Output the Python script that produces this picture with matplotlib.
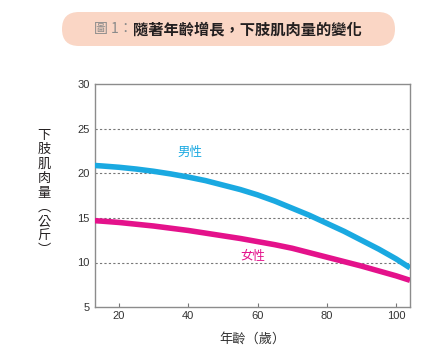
import matplotlib
matplotlib.use("Agg")
import matplotlib.pyplot as plt
from matplotlib.patches import FancyBboxPatch

# values
ages = [13, 15, 20, 25, 30, 35, 40, 45, 50, 55, 60, 65, 70, 75, 80, 85, 90, 95, 100, 104]
male = [20.9, 20.85, 20.7, 20.5, 20.25, 19.95, 19.6, 19.2, 18.7, 18.2,
        17.6, 16.9, 16.1, 15.3, 14.4, 13.5, 12.5, 11.5, 10.4, 9.4]
female = [14.7, 14.65, 14.5, 14.3, 14.1, 13.85, 13.6, 13.3, 13.0, 12.7,
          12.35, 12.0, 11.6, 11.1, 10.6, 10.1, 9.6, 9.05, 8.5, 8.0]
x_ticks = [20, 40, 60, 80, 100]
y_ticks = [5, 10, 15, 20, 25, 30]
grid_levels = [10, 15, 20, 25]

CJK = ['Noto Sans CJK TC', 'DejaVu Sans']
NUM = ['Liberation Sans', 'DejaVu Sans']
BLUE = '#1aa9e1'
PINK = '#e4128b'

fig = plt.figure(figsize=(4.29, 3.55), dpi=100)

# title banner drawn on a pixel-unit overlay
bg = fig.add_axes([0, 0, 1, 1])
bg.set_xlim(0, 429)
bg.set_ylim(355, 0)
bg.axis('off')
banner = FancyBboxPatch((45 + 17, 12), 367 - 34, 34,
                        boxstyle="round,pad=0,rounding_size=17",
                        facecolor='#fad6c5', edgecolor='none')
bg.add_patch(banner)
bg.text(133, 29.5, "圖 1：", ha='right', va='center', fontsize=10,
        color='#8a8a8a', family=CJK)
bg.text(133, 29.5, "隨著年齡增長，下肢肌肉量的變化", ha='left', va='center',
        fontsize=11, fontweight='heavy', color='#231f20', family=CJK)

ax = fig.add_axes([95 / 429, 1 - 307 / 355, 315 / 429, 222.5 / 355])
ax.set_xlim(13.1, 104)
ax.set_ylim(5, 30)

for lv in grid_levels:
    ax.axhline(lv, color='#777777', linewidth=0.8, linestyle=(0, (2, 2)), zorder=1)

ax.plot(ages, male, color=BLUE, linewidth=4, solid_capstyle='butt',
        solid_joinstyle='round', zorder=3)
ax.plot(ages, female, color=PINK, linewidth=4, solid_capstyle='butt',
        solid_joinstyle='round', zorder=3)

ax.text(40.4, 22.4, "男性", color=BLUE, fontsize=9, ha='center', va='center', family=CJK)
ax.text(58.6, 10.7, "女性", color=PINK, fontsize=9, ha='center', va='center', family=CJK)

ax.set_xticks(x_ticks)
ax.set_yticks(y_ticks)
ax.set_xticklabels([str(v) for v in x_ticks], family=NUM, fontsize=8, color='#333333')
ax.set_yticklabels([str(v) for v in y_ticks], family=NUM, fontsize=8, color='#333333')
ax.tick_params(axis='x', direction='in', length=3, width=0.8, color='#777777', pad=3)
ax.tick_params(axis='y', length=0, pad=4)

for sp in ax.spines.values():
    sp.set_color('#8c8c8c')
    sp.set_linewidth(1.0)

ax.set_xlabel("年齡（歲）", family=CJK, fontsize=9.5, color='#333333', labelpad=8)

# vertical stacked y label
bg.text(44, 193, "\n".join("下肢肌肉量︵公斤︶"), ha='center', va='center',
        fontsize=9.5, color='#231f20', family=CJK, linespacing=1.15)

fig.savefig("out.png", dpi=100)
